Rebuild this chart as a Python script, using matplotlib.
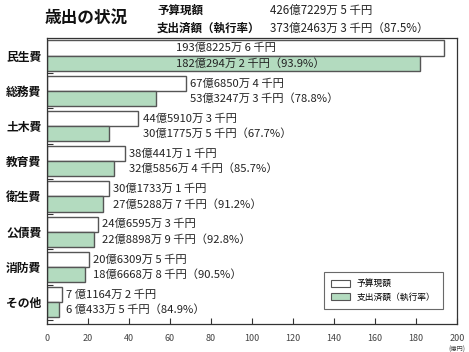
import matplotlib
matplotlib.use("Agg")
import numpy as np
import matplotlib.pyplot as plt
from matplotlib.patches import Patch

plt.rcParams['font.family'] = ['Noto Sans CJK JP', 'DejaVu Sans']

# data (億円)
categories = ["民生費", "総務費", "土木費", "教育費", "衛生費", "公債費", "消防費", "その他"]
budget = [193.82256, 67.68504, 44.59103, 38.04411, 30.17331, 24.65953, 20.63095, 7.11642]
spent = [182.02942, 53.32473, 30.17755, 32.58564, 27.52887, 22.88989, 18.66688, 6.04335]
budget_lab = ["193億8225万 6 千円", "67億6850万 4 千円", "44億5910万 3 千円", "38億441万 1 千円",
              "30億1733万 1 千円", "24億6595万 3 千円", "20億6309万 5 千円", "7 億1164万 2 千円"]
spent_lab = ["182億294万 2 千円（93.9%）", "53億3247万 3 千円（78.8%）", "30億1775万 5 千円（67.7%）",
             "32億5856万 4 千円（85.7%）", "27億5288万 7 千円（91.2%）", "22億8898万 9 千円（92.8%）",
             "18億6668万 8 千円（90.5%）", "6 億433万 5 千円（84.9%）"]
xticks = [0, 20, 40, 60, 80, 100, 120, 140, 160, 180, 200]

green = '#b3dbbf'
edge = '#555555'
txt = '#222222'

fig = plt.figure(figsize=(4.69, 3.52), dpi=100)
ax = fig.add_axes([47/469, 1-324/352, 410/469, 286/352])

y = np.arange(len(categories))
h = 0.43
ax.barh(y - h, budget, height=h, align='edge', color='white', edgecolor=edge, linewidth=1.0)
ax.barh(y, spent, height=h, align='edge', color=green, edgecolor=edge, linewidth=1.0)

for i in range(len(categories)):
    if i == 0:
        lx = 63
    else:
        lx = budget[i] + 2
    ax.text(lx, y[i] - h/2, budget_lab[i], fontsize=8.1, color=txt, va='center', ha='left')
    ax.text(lx, y[i] + h/2, spent_lab[i], fontsize=8.1, color=txt, va='center', ha='left')

ax.set_xlim(0, 200)
ax.set_ylim(7.62, -0.5)
ax.set_xticks(xticks)
ax.set_xticklabels([str(v) for v in xticks], fontsize=6.5, color='#444444')
ax.tick_params(axis='x', direction='in', length=4, width=0.8, color='#333333', pad=7)
ax.set_yticks(y)
ax.set_yticklabels(categories, fontsize=8.5, fontweight='bold', color='#111111')
ax.tick_params(axis='y', which='major', length=0, pad=4)
ax.set_yticks(y + 0.5, minor=True)
ax.tick_params(axis='y', which='minor', direction='in', length=4, width=0.8, color='#333333')
for s in ax.spines.values():
    s.set_color('#333333')
    s.set_linewidth(0.9)

ax.text(1.0, -0.075, "(億円)", transform=ax.transAxes, fontsize=4.5, ha='center', va='top', color='#444444')

# header
fig.text(45/469, 1-18/352, "歳出の状況", fontsize=12, fontweight='bold', va='center', ha='left', color='#111111')
fig.text(157/469, 1-10/352, "予算現額", fontsize=8.3, fontweight='bold', va='center', ha='left', color='#111111')
fig.text(157/469, 1-28/352, "支出済額（執行率）", fontsize=8.3, fontweight='bold', va='center', ha='left', color='#111111')
fig.text(270/469, 1-10/352, "426億7229万 5 千円", fontsize=8.3, va='center', ha='left', color=txt)
fig.text(270/469, 1-28/352, "373億2463万 3 千円（87.5%）", fontsize=8.3, va='center', ha='left', color=txt)

handles = [Patch(facecolor='white', edgecolor=edge, linewidth=0.8, label='予算現額'),
           Patch(facecolor=green, edgecolor=edge, linewidth=0.8, label='支出済額（執行率）')]
leg = ax.legend(handles=handles, loc='lower right', bbox_to_anchor=(447/469, 1-313/352),
                bbox_transform=fig.transFigure, fontsize=6.3, frameon=True, fancybox=False,
                edgecolor='#444444', handlelength=2.2, handleheight=0.9, borderpad=0.8,
                labelspacing=0.5, handletextpad=0.8)
leg.get_frame().set_linewidth(0.8)

fig.savefig("out.png", dpi=100)
